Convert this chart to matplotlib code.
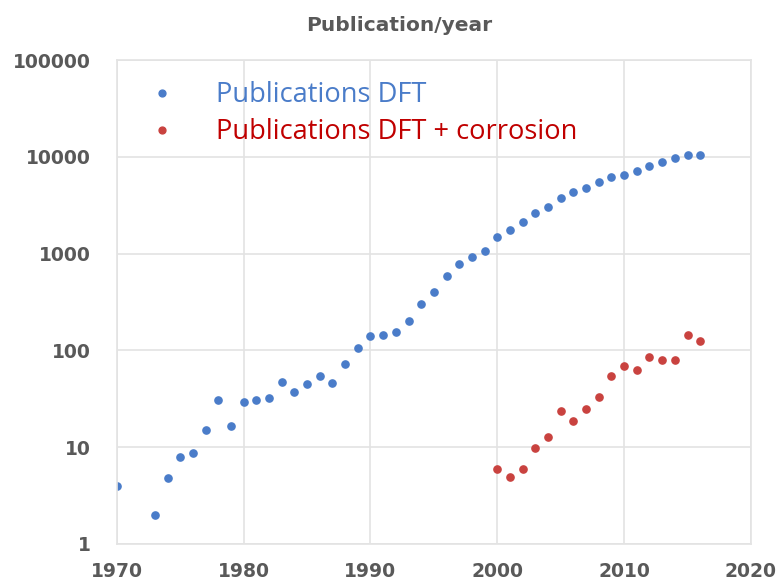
import matplotlib
matplotlib.use("Agg")
import matplotlib.pyplot as plt
from matplotlib.ticker import FixedLocator, FixedFormatter, NullLocator

years_dft = [1970, 1973, 1974, 1975, 1976, 1977, 1978, 1979, 1980, 1981, 1982, 1983,
             1984, 1985, 1986, 1987, 1988, 1989, 1990, 1991, 1992, 1993, 1994, 1995,
             1996, 1997, 1998, 1999, 2000, 2001, 2002, 2003, 2004, 2005, 2006, 2007,
             2008, 2009, 2010, 2011, 2012, 2013, 2014, 2015, 2016]
pubs_dft = [4, 2, 4.8, 8, 8.7, 15, 31, 16.5, 29.5, 30.5, 32, 47,
            37, 45, 55, 46, 72, 106, 140, 145, 155, 200, 300, 400,
            590, 780, 920, 1070, 1490, 1750, 2130, 2640, 3030, 3730, 4350, 4770,
            5500, 6200, 6450, 7100, 8000, 8900, 9800, 10500, 10500]

years_corr = [2000, 2001, 2002, 2003, 2004, 2005, 2006, 2007, 2008, 2009, 2010,
              2011, 2012, 2013, 2014, 2015, 2016]
pubs_corr = [6, 4.9, 6, 9.8, 12.7, 23.6, 18.7, 24.8, 33, 54, 69,
             63, 85, 80, 80, 144, 125]

x_ticks = [1970, 1980, 1990, 2000, 2010, 2020]
y_ticks = [1, 10, 100, 1000, 10000, 100000]
y_labels = ["1", "10", "100", "1000", "10000", "100000"]

title = "Publication/year"
label_dft = "Publications DFT"
label_corr = "Publications DFT + corrosion"

blue = "#4A7CC9"
red = "#C9423F"
gray = "#595959"
grid = "#E3E3E3"

fig = plt.figure(figsize=(7.79, 5.81), dpi=100)
ax = fig.add_axes([0.150, 0.0637, 0.814, 0.833])

ax.plot(years_dft, pubs_dft, linestyle="none", marker="o", markersize=5.2,
        color=blue, label=label_dft)
ax.plot(years_corr, pubs_corr, linestyle="none", marker="o", markersize=5.2,
        color=red, label=label_corr)

ax.set_yscale("log")
ax.set_xlim(1970, 2020)
ax.set_ylim(1, 100000)
ax.xaxis.set_major_locator(FixedLocator(x_ticks))
ax.yaxis.set_major_locator(FixedLocator(y_ticks))
ax.yaxis.set_major_formatter(FixedFormatter(y_labels))
ax.yaxis.set_minor_locator(NullLocator())
ax.grid(True, color=grid, linewidth=1.2)
ax.set_axisbelow(True)
for s in ax.spines.values():
    s.set_color(grid)
    s.set_linewidth(1.2)
ax.tick_params(length=0, labelsize=13.5, labelcolor=gray)
ax.tick_params(axis="x", pad=13)
ax.tick_params(axis="y", pad=19)
for lab in ax.get_xticklabels() + ax.get_yticklabels():
    lab.set_fontweight("bold")
    lab.set_family("DejaVu Sans")

fig.text(0.513, 0.956, title, ha="center", va="center", fontsize=14.5,
         fontweight="bold", color=gray, family="DejaVu Sans")

leg = ax.legend(loc="upper left", bbox_to_anchor=(0.011, 0.979), frameon=False,
                handletextpad=1.0, labelspacing=0.33, borderaxespad=0,
                prop={"family": "Open Sans", "size": 19.6},
                labelcolor=[blue, "#C00000"], markerscale=0.95)

fig.savefig("out.png", dpi=100)
